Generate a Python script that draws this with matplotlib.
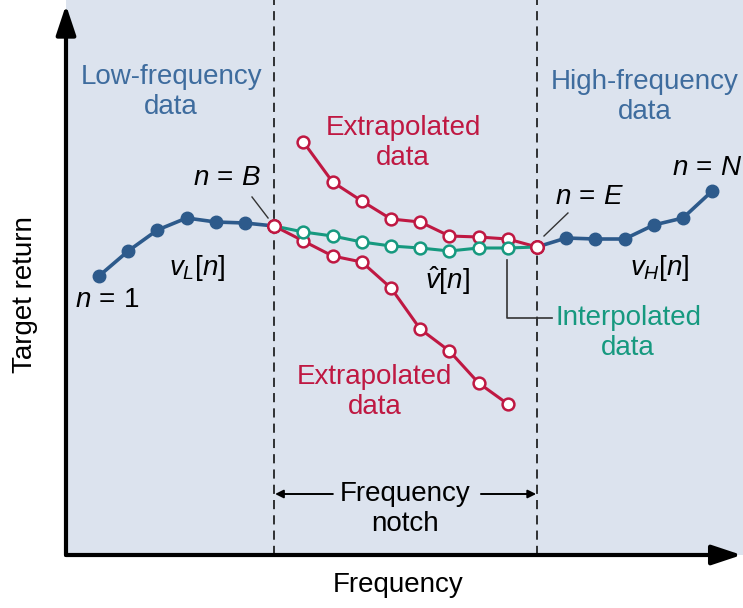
import matplotlib
matplotlib.use("Agg")
import matplotlib.pyplot as plt
import numpy as np

plt.rcParams['font.family'] = 'Liberation Sans'
plt.rcParams['mathtext.fontset'] = 'custom'
plt.rcParams['mathtext.rm'] = 'Liberation Sans'
plt.rcParams['mathtext.it'] = 'Liberation Sans:italic'

# sample index n = 1..22, B = 7, E = 16, N = 22
n_low = np.arange(1, 8)
ret_low = [27.9, 30.4, 32.5, 33.7, 33.3, 33.2, 32.9]
n_high = np.arange(16, 23)
ret_high = [30.8, 31.7, 31.6, 31.6, 33.0, 33.7, 36.4]
n_interp = np.arange(7, 17)
ret_interp = [32.9, 32.3, 31.9, 31.3, 30.9, 30.7, 30.4, 30.7, 30.7, 30.8]
n_ext_up = np.arange(8, 17)
ret_ext_up = [41.3, 37.3, 35.4, 33.6, 33.3, 31.9, 31.8, 31.6, 30.8]
n_ext_low = np.arange(7, 16)
ret_ext_low = [32.9, 31.4, 29.9, 29.3, 26.7, 22.6, 20.4, 17.2, 15.1]
B, E = 7, 16

blue = '#2d5a8b'
blue_txt = '#3e6c9e'
red = '#bf1842'
teal = '#16997f'
bg = '#dce3ee'
fs = 20
ls = 1.2

fig = plt.figure(figsize=(7.43, 6.08), dpi=100)
ax = fig.add_axes([66 / 743, 53 / 608, 677 / 743, 555 / 608])
ax.set_facecolor(bg)
ax.set_xlim(-0.13, 23.055)
ax.set_ylim(0, 55.5)
for s in ax.spines.values():
    s.set_visible(False)
ax.set_xticks([])
ax.set_yticks([])

# axes with arrows
ax.annotate('', xy=(0, 0.991), xytext=(0, 0), xycoords='axes fraction',
            arrowprops=dict(arrowstyle='-|>,head_length=0.9,head_width=0.3',
                            lw=3, color='k', shrinkA=0, shrinkB=0,
                            mutation_scale=20), annotation_clip=False)
ax.annotate('', xy=(0.998, 0), xytext=(0, 0), xycoords='axes fraction',
            arrowprops=dict(arrowstyle='-|>,head_length=0.9,head_width=0.3',
                            lw=3, color='k', shrinkA=0, shrinkB=0,
                            mutation_scale=20), annotation_clip=False)

# notch borders
for v in (B, E):
    ax.axvline(v, color='k', lw=1.1, ls=(0, (6, 4)), zorder=1)

# data
ax.plot(n_low, ret_low, color=blue, lw=2.6, marker='o', ms=9, zorder=3)
ax.plot(n_high, ret_high, color=blue, lw=2.6, marker='o', ms=9, zorder=3)
ax.plot(n_ext_up, ret_ext_up, color=red, lw=2.2, marker='o', ms=8.5,
        mfc='white', mec=red, mew=1.8, zorder=4)
ax.plot(n_ext_low, ret_ext_low, color=red, lw=2.2, marker='o', ms=8.5,
        mfc='white', mec=red, mew=1.8, zorder=4)
ax.plot(n_interp, ret_interp, color=teal, lw=2.2, zorder=5)
ax.plot(n_interp[1:-1], ret_interp[1:-1], ls='none', marker='o', ms=8.5,
        mfc='white', mec=teal, mew=1.8, zorder=5)
ax.plot([B, E], [ret_interp[0], ret_interp[-1]], ls='none', marker='o', ms=9,
        mfc='white', mec=red, mew=1.8, zorder=6)

# region labels
ax.text(3.47, 46.3, 'Low-frequency\ndata', color=blue_txt, fontsize=fs,
        ha='center', va='center', linespacing=ls)
ax.text(19.7, 45.8, 'High-frequency\ndata', color=blue_txt, fontsize=fs,
        ha='center', va='center', linespacing=ls)
ax.text(11.41, 41.2, 'Extrapolated\ndata', color=red, fontsize=fs,
        ha='center', va='center', linespacing=ls)
ax.text(10.45, 16.3, 'Extrapolated\ndata', color=red, fontsize=fs,
        ha='center', va='center', linespacing=ls)
ax.text(19.12, 22.2, 'Interpolated\ndata', color=teal, fontsize=fs,
        ha='center', va='center', linespacing=ls)
ax.text(11.48, 4.6, 'Frequency\nnotch', color='k', fontsize=fs,
        ha='center', va='center', linespacing=ls)

# point labels
ax.text(5.38, 37.7, r'$n\,=\,B$', fontsize=fs, ha='center', va='center')
ax.text(17.82, 35.8, r'$n\,=\,E$', fontsize=fs, ha='center', va='center')
ax.text(21.82, 38.7, r'$n\,=\,N$', fontsize=fs, ha='center', va='center')
ax.text(1.27, 25.5, r'$n\,=\,1$', fontsize=fs, ha='center', va='center')
ax.text(4.36, 28.7, '$v_L[n]$', fontsize=fs, ha='center', va='center')
ax.text(20.2, 28.7, '$v_H[n]$', fontsize=fs, ha='center', va='center')
ax.text(12.92, 27.4, r'$\hat{v}[n]$', fontsize=fs, ha='center', va='center')

# leader lines
ax.plot([6.24, 6.79], [35.8, 33.7], color='#333333', lw=1)
ax.plot([17.06, 16.24], [34.2, 31.9], color='#333333', lw=1)
ax.plot([14.97, 14.97, 16.5], [29.5, 23.7, 23.7], color='#333333', lw=1.2)

# notch width arrows
arrow = dict(arrowstyle='-|>', lw=1.4, color='k', shrinkA=0, shrinkB=0,
             mutation_scale=12)
ax.annotate('', xy=(7.03, 6.1), xytext=(9.01, 6.1), arrowprops=arrow)
ax.annotate('', xy=(15.97, 6.1), xytext=(14.08, 6.1), arrowprops=arrow)

fig.text(398 / 743, 1 - 585 / 608, 'Frequency', fontsize=fs,
         ha='center', va='center')
fig.text(25 / 743, 1 - 295 / 608, 'Target return', fontsize=fs,
         ha='center', va='center', rotation=90)

fig.savefig('out.png', dpi=100)
